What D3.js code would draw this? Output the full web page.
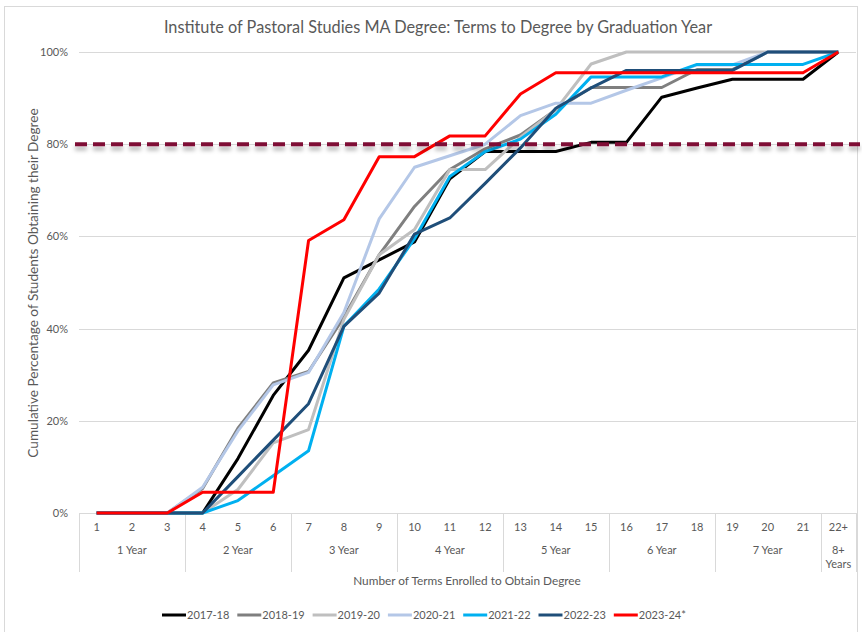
<!DOCTYPE html>
<html>
<head>
<meta charset="utf-8">
<script src="https://cdn.jsdelivr.net/npm/d3@7"></script>
<style>
  body { margin: 0; background: #fff; }
  svg text { font-family: Lato, "Open Sans", sans-serif; fill: #595959; }
</style>
</head>
<body>
<div id="chart"></div>
<script>
/* -----------------    DATA     ------------------ */
const terms = ['1','2','3','4','5','6','7','8','9','10','11','12','13','14','15','16','17','18','19','20','21','22+'];
const yearGroups = ['1 Year','2 Year','3 Year','4 Year','5 Year','6 Year','7 Year','8+ Years'];
const groupSizes = [3, 3, 3, 3, 3, 3, 3, 1];
const seriesNames = ['2017-18','2018-19','2019-20','2020-21','2021-22','2022-23','2023-24*'];

// cumulative percentages per term
const s2017 = [0,0,0,0,11.8,25.5,35.3,51.0,54.9,58.8,72.5,78.4,78.4,78.4,80.4,80.4,90.2,92.2,94.1,94.1,94.1,100];
const s2018 = [0,0,0,5.3,18.4,28.2,30.7,42.5,56.0,66.5,74.5,79.0,82.0,87.5,92.3,92.3,92.3,96.2,96.2,100,100,100];
const s2019 = [0,0,0,0,5.1,15.2,18.1,42.0,56.0,61.5,74.5,74.5,81.5,87.5,97.4,100,100,100,100,100,100,100];
const s2020 = [0,0,0,5.6,17.8,27.8,30.5,43.5,63.8,75.0,77.5,80.0,86.2,88.9,88.9,91.7,94.4,97.2,97.2,100,100,100];
const s2021 = [0,0,0,0,2.7,8.1,13.5,40.5,48.6,59.5,73.0,78.4,81.1,86.5,94.6,94.6,94.6,97.3,97.3,97.3,97.3,100];
const s2022 = [0,0,0,0,7.9,15.8,23.7,40.5,47.7,60.5,64.0,71.5,79.2,87.8,92.2,96.0,96.0,96.0,96.0,100,100,100];
const s2023 = [0,0,0,4.5,4.5,4.5,59.1,63.6,77.3,77.3,81.8,81.8,90.9,95.5,95.5,95.5,95.5,95.5,95.5,95.5,95.5,100];
const seriesValues = [s2017, s2018, s2019, s2020, s2021, s2022, s2023];

const yTicks = [0, 20, 40, 60, 80, 100];
const targetLine = 80;

/* -----------------    CONSTANTS     ------------------ */
const settings = {
    width: 862,
    height: 632,
    left: 79,
    right: 856,
    top: 52,
    bottom: 513,
    grid: '#d9d9d9',
    colors: ['#000000', '#7f7f7f', '#bfbfbf', '#b4c7e7', '#00b0f0', '#1f4e79', '#ff0000'],
    target: '#7f0a36'
};

/* -----------------    LOGIC     ------------------ */
const svg = d3.select('#chart')
    .append('svg')
    .attr('width', settings.width)
    .attr('height', settings.height);

// drop shadow for the target line (user space, the line has no height)
const defs = svg.append('defs');
defs.append('filter')
    .attr('id', 'shadow')
    .attr('filterUnits', 'userSpaceOnUse')
    .attr('x', 0).attr('y', 120)
    .attr('width', settings.width).attr('height', 50)
    .append('feDropShadow')
    .attr('dx', 0).attr('dy', 4)
    .attr('stdDeviation', 2)
    .attr('flood-color', '#000')
    .attr('flood-opacity', 0.3);

// chart border
svg.append('rect')
    .attr('x', 4.5).attr('y', 6.5)
    .attr('width', 853).attr('height', 630)
    .attr('fill', 'none')
    .attr('stroke', '#d9d9d9');

// Scales
const xScale = d3.scaleBand()
    .domain(terms)
    .range([settings.left, settings.right])
    .padding(0);
const xMid = t => xScale(t) + xScale.bandwidth() / 2;

const yScale = d3.scaleLinear()
    .domain([0, 100])
    .range([settings.bottom, settings.top]);

// Title
svg.append('text')
    .attr('x', 438)
    .attr('y', 33)
    .attr('text-anchor', 'middle')
    .style('font-size', '16.3px')
    .text('Institute of Pastoral Studies MA Degree: Terms to Degree by Graduation Year');

// Gridlines
svg.append('g')
    .selectAll('line')
    .data(yTicks.filter(d => d > 0))
    .enter()
    .append('line')
    .attr('x1', settings.left)
    .attr('x2', settings.right)
    .attr('y1', d => Math.round(yScale(d)) + 0.5)
    .attr('y2', d => Math.round(yScale(d)) + 0.5)
    .attr('stroke', settings.grid);

// Y axis
const yAxis = d3.axisLeft(yScale)
    .tickValues(yTicks)
    .tickFormat(d => d + '%')
    .tickSize(0)
    .tickPadding(11);

const gy = svg.append('g')
    .attr('transform', `translate(${settings.left}, 0)`)
    .call(yAxis);
gy.select('.domain').remove();
gy.selectAll('text').style('font-size', '11px').style('fill', '#595959');

svg.append('text')
    .attr('transform', `translate(38, 283) rotate(-90)`)
    .attr('text-anchor', 'middle')
    .style('font-size', '13.6px')
    .text('Cumulative Percentage of Students Obtaining their Degree');

// X axis
const xAxis = d3.axisBottom(xScale)
    .tickSize(0)
    .tickPadding(10);

const gx = svg.append('g')
    .attr('transform', `translate(0, ${settings.bottom})`)
    .call(xAxis);
gx.select('.domain').remove();
gx.selectAll('text').style('font-size', '11px').style('fill', '#595959');

svg.append('line')
    .attr('x1', settings.left).attr('x2', settings.right)
    .attr('y1', settings.bottom + 0.5).attr('y2', settings.bottom + 0.5)
    .attr('stroke', settings.grid);

// Year groups
let start = 0;
const groups = yearGroups.map((name, i) => {
    const first = terms[start];
    const last = terms[start + groupSizes[i] - 1];
    start += groupSizes[i];
    return { name, x0: xScale(first), x1: xScale(last) + xScale.bandwidth() };
});

const bounds = [groups[0].x0].concat(groups.map(g => g.x1));
svg.append('g')
    .selectAll('line')
    .data(bounds)
    .enter()
    .append('line')
    .attr('x1', d => Math.round(d) + 0.5)
    .attr('x2', d => Math.round(d) + 0.5)
    .attr('y1', settings.bottom)
    .attr('y2', 572)
    .attr('stroke', settings.grid);

const groupText = svg.append('g')
    .selectAll('text')
    .data(groups)
    .enter()
    .append('text')
    .attr('x', d => (d.x0 + d.x1) / 2)
    .attr('y', 554)
    .attr('text-anchor', 'middle')
    .style('font-size', '11px');

groupText.each(function(d) {
    const words = d.name === '8+ Years' ? ['8+', 'Years'] : [d.name];
    const t = d3.select(this);
    words.forEach((w, i) => {
        t.append('tspan')
            .attr('x', (d.x0 + d.x1) / 2)
            .attr('dy', i === 0 ? 0 : 14)
            .text(w);
    });
});

svg.append('text')
    .attr('x', 467)
    .attr('y', 585)
    .attr('text-anchor', 'middle')
    .style('font-size', '11.8px')
    .text('Number of Terms Enrolled to Obtain Degree');

// Series lines
const line = d3.line()
    .x((d, i) => xMid(terms[i]))
    .y(d => yScale(d));

svg.append('g')
    .attr('id', 'lines')
    .selectAll('path')
    .data(seriesValues)
    .enter()
    .append('path')
    .attr('d', d => line(d))
    .attr('fill', 'none')
    .attr('stroke', (d, i) => settings.colors[i])
    .attr('stroke-width', 3)
    .attr('stroke-linejoin', 'round');

// 80% target line
svg.append('line')
    .attr('x1', 75)
    .attr('x2', 860)
    .attr('y1', yScale(targetLine))
    .attr('y2', yScale(targetLine))
    .attr('stroke', settings.target)
    .attr('stroke-width', 4)
    .attr('stroke-dasharray', '12 6')
    .attr('filter', 'url(#shadow)');

// Legend
const legend = svg.append('g')
    .selectAll('g')
    .data(seriesNames)
    .enter()
    .append('g')
    .attr('transform', (d, i) => `translate(${162 + i * 75.3}, 615)`);

legend.append('line')
    .attr('x1', 0).attr('x2', 24)
    .attr('y1', 0).attr('y2', 0)
    .attr('stroke', (d, i) => settings.colors[i])
    .attr('stroke-width', 3);

legend.append('text')
    .attr('x', 25)
    .attr('y', 4)
    .style('font-size', '11px')
    .text(d => d);
</script>
</body>
</html>
